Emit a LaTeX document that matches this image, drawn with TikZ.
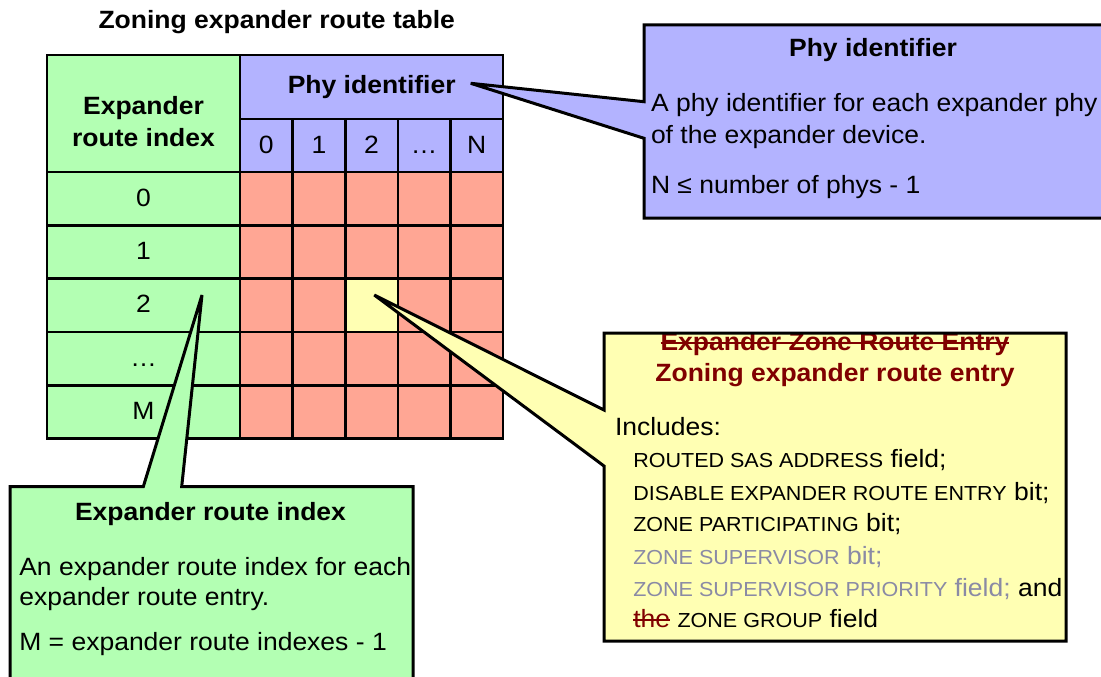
\documentclass[tikz,border=0pt]{standalone}
\usepackage{fontspec}
\setmainfont{Liberation Sans}[FakeStretch=1.06]
\definecolor{cgreen}{RGB}{179,255,179}
\definecolor{cblue}{RGB}{179,179,255}
\definecolor{cpink}{RGB}{255,166,148}
\definecolor{cyellow}{RGB}{255,255,179}
\definecolor{cdred}{RGB}{128,0,0}
\definecolor{cgrey}{RGB}{138,138,165}
\newcommand{\smcap}[1]{{\fontsize{20.3}{24}\selectfont #1}}
\tikzset{
  cell/.style={draw, line width=2.6pt, minimum width=52.6pt, minimum height=53.3pt, inner sep=0pt, outer sep=0pt},
  callout/.style={draw, line width=3pt, line join=miter, miter limit=4},
  txt/.style={inner sep=0pt, outer sep=0pt},
  btxt/.style={txt, font=\fontsize{25}{32}\selectfont\bfseries},
  strike/.style={line width=2pt},
}
\begin{document}
\begin{tikzpicture}[x=1pt, y=-1pt, font=\fontsize{25}{32}\selectfont]
\useasboundingbox (0,0) rectangle (1101,677);
\clip (0,0) rectangle (1101,677);
\fill[white] (0,0) rectangle (1101,677);

% title
\node[btxt, anchor=base] (title) at (276.7,28.3) {Zoning expander route table};

% table headers
\node[cell, fill=cgreen, minimum width=193pt, minimum height=117pt] (hdrL) at (143.5,113.5) {};
\node[btxt, anchor=base] (hdrL1) at (143.5,114) {Expander};
\node[btxt, anchor=base] (hdrL2) at (143.5,146) {route index};
\node[cell, fill=cblue, minimum width=263pt, minimum height=64pt] (hdrP) at (371.5,87) {};
\node[btxt, anchor=base] (hdrPt) at (371.7,93.3) {Phy identifier};
\foreach \lab [count=\j from 0] in {0,1,2,…,N} {
  \pgfmathsetmacro\cx{266.3+52.6*\j}
  \node[cell, fill=cblue, minimum height=53pt] (ph\j) at (\cx,145.5) {};
  \node[txt, anchor=base] (pht\j) at (\cx,153) {\lab};
}
% table rows
\foreach \lab [count=\i from 0] in {0,1,2,…,M} {
  \pgfmathsetmacro\cy{198.65+53.3*\i}
  \pgfmathsetmacro\by{206.2+53.3*\i}
  \node[cell, fill=cgreen, minimum width=193pt] (idx\i) at (143.5,\cy) {};
  \node[txt, anchor=base] (idxt\i) at (143.5,\by) {\lab};
  \foreach \j in {0,...,4} {
    \pgfmathsetmacro\cx{266.3+52.6*\j}
    \edef\cc{cpink}\ifnum\i=2 \ifnum\j=2 \edef\cc{cyellow}\fi\fi
    \node[cell, fill=\cc] (e\i\j) at (\cx,\cy) {};
  }
}

% blue callout
\coordinate (tipB) at (470.7,83.3);
\draw[callout, fill=cblue] (644,25) -- (644,101.7) -- (tipB) -- (644,138.3) -- (644,218) -- (1106,218) -- (1106,25) -- cycle;
\node[btxt, anchor=base] (bT) at (873,56.7) {Phy identifier};
\node[txt, anchor=base west] (bL1) at (651,111.7) {A phy identifier for each expander phy};
\node[txt, anchor=base west] (bL2) at (651,143.3) {of the expander device.};
\node[txt, anchor=base west] (bL3) at (651,193.3) {N ≤ number of phys - 1};

% yellow callout
\coordinate (tipY) at (374.3,295);
\fill[cyellow] (604,333) -- (604,410) -- (tipY) -- (604,466) -- (604,641) -- (1066,641) -- (1066,333) -- cycle;
\begin{scope}
  \clip (604,333) rectangle (1066,641);
  \node[btxt, anchor=base, text=cdred] (yS) at (835,350) {Expander Zone Route Entry};
  \draw[strike, cdred] ([yshift=7pt]yS.base west) -- ([yshift=7pt]yS.base east);
\end{scope}
\draw[callout] (604,333) -- (604,410) -- (tipY) -- (604,466) -- (604,641) -- (1066,641) -- (1066,333) -- cycle;
\node[btxt, anchor=base, text=cdred] (yT) at (835,381.7) {Zoning expander route entry};
\node[txt, anchor=base west] (yInc) at (615,435) {Includes:};
\node[txt, anchor=base west] (y1) at (633.3,467.7) {\smcap{ROUTED SAS ADDRESS} field;};
\node[txt, anchor=base west] (y2) at (633.3,500) {\smcap{DISABLE EXPANDER ROUTE ENTRY} bit;};
\node[txt, anchor=base west] (y3) at (633.3,531.7) {\smcap{ZONE PARTICIPATING} bit;};
\node[txt, anchor=base west, text=cgrey] (y4) at (633.3,564) {\smcap{ZONE SUPERVISOR} bit;};
\node[txt, anchor=base west] (y5) at (633.3,596) {\textcolor{cgrey}{\smcap{ZONE SUPERVISOR PRIORITY} field;} and};
\node[txt, anchor=base west, text=cdred] (y6a) at (633.3,627.3) {the};
\draw[strike, cdred] ([yshift=7pt]y6a.base west) -- ([yshift=7pt]y6a.base east);
\node[txt, anchor=base west] (y6b) at ([xshift=7.4pt]y6a.base east) {\smcap{ZONE GROUP} field};

% green callout
\coordinate (tipG) at (202,295);
\draw[callout, fill=cgreen] (10,486.7) -- (143.3,486.7) -- (tipG) -- (181.7,486.7) -- (413,486.7) -- (413,690) -- (10,690) -- cycle;
\node[btxt, anchor=base] (gT) at (210.5,520) {Expander route index};
\node[txt, anchor=base west] (gL1) at (19.3,575) {An expander route index for each};
\node[txt, anchor=base west] (gL2) at (19.3,605) {expander route entry.};
\node[txt, anchor=base west] (gL3) at (19.3,650) {M = expander route indexes - 1};
\end{tikzpicture}
\end{document}
